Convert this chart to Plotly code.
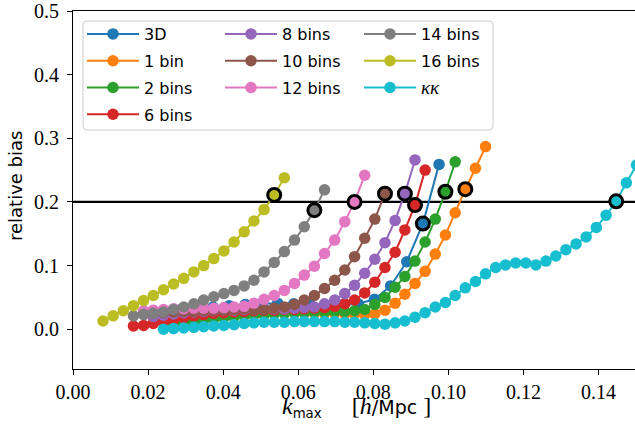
import plotly.graph_objects as go

# Shared k grid (h/Mpc) used by the tomographic and lensing curves
K_GRID = [0.0080, 0.0107, 0.0134, 0.0161, 0.0188, 0.0214, 0.0241, 0.0268, 0.0295,
          0.0322, 0.0348, 0.0375, 0.0402, 0.0429, 0.0456, 0.0482, 0.0509, 0.0536,
          0.0563, 0.0590, 0.0616, 0.0643, 0.0670, 0.0697, 0.0724, 0.0750, 0.0777,
          0.0804, 0.0831, 0.0858, 0.0884, 0.0911, 0.0938, 0.0965, 0.0992, 0.1018,
          0.1045, 0.1072, 0.1099, 0.1126, 0.1152, 0.1179, 0.1206, 0.1233, 0.1260,
          0.1286, 0.1313, 0.1340, 0.1367, 0.1394, 0.1420, 0.1447, 0.1474, 0.1501]

# 3D analysis uses its own, coarser k grid
K_3D = [0.0287, 0.0330, 0.0373, 0.0416, 0.0459, 0.0502, 0.0545, 0.0588, 0.0631,
        0.0674, 0.0717, 0.0760, 0.0803, 0.0846, 0.0889, 0.0932, 0.0975]
BIAS_3D = [0.031, 0.033, 0.035, 0.037, 0.039, 0.040, 0.041, 0.040, 0.039,
           0.038, 0.038, 0.040, 0.047, 0.068, 0.106, 0.166, 0.259]

# first k value of each curve on K_GRID, followed by the relative bias values
KMIN_1BIN = 0.0214
BIAS_1BIN = [0.018, 0.019, 0.020, 0.021, 0.022, 0.023, 0.024, 0.025, 0.025, 0.026,
             0.026, 0.026, 0.026, 0.026, 0.026, 0.026, 0.025, 0.025, 0.025, 0.024,
             0.024, 0.023, 0.024, 0.030, 0.041, 0.055, 0.072, 0.091, 0.118, 0.148,
             0.183, 0.220, 0.253, 0.287]

KMIN_2BINS = 0.0268
BIAS_2BINS = [0.008, 0.010, 0.012, 0.014, 0.016, 0.018, 0.019, 0.021, 0.022, 0.023,
              0.024, 0.025, 0.026, 0.026, 0.027, 0.027, 0.028, 0.028, 0.029, 0.031,
              0.039, 0.050, 0.066, 0.083, 0.107, 0.137, 0.173, 0.216, 0.263]

KMIN_6BINS = 0.0161
BIAS_6BINS = [0.005, 0.006, 0.009, 0.012, 0.015, 0.018, 0.021, 0.023, 0.025, 0.026,
              0.027, 0.028, 0.029, 0.030, 0.030, 0.031, 0.031, 0.032, 0.033, 0.034,
              0.036, 0.040, 0.046, 0.057, 0.074, 0.097, 0.121, 0.156, 0.195, 0.250]

KMIN_8BINS = 0.0214
BIAS_8BINS = [0.020, 0.022, 0.024, 0.026, 0.027, 0.028, 0.029, 0.030, 0.030, 0.031,
              0.031, 0.032, 0.032, 0.032, 0.033, 0.034, 0.035, 0.040, 0.046, 0.056,
              0.069, 0.088, 0.110, 0.136, 0.171, 0.213, 0.266]

KMIN_10BINS = 0.0188
BIAS_10BINS = [0.024, 0.025, 0.026, 0.027, 0.028, 0.028, 0.029, 0.030, 0.030, 0.031,
               0.032, 0.031, 0.031, 0.033, 0.035, 0.039, 0.046, 0.053, 0.064, 0.077,
               0.093, 0.114, 0.143, 0.173, 0.213]

KMIN_12BINS = 0.0188
BIAS_12BINS = [0.029, 0.030, 0.031, 0.032, 0.032, 0.033, 0.033, 0.033, 0.034, 0.035,
               0.036, 0.041, 0.047, 0.053, 0.061, 0.072, 0.085, 0.099, 0.119, 0.140,
               0.169, 0.200, 0.242]

KMIN_14BINS = 0.0161
BIAS_14BINS = [0.021, 0.023, 0.025, 0.027, 0.031, 0.035, 0.040, 0.046, 0.051, 0.056,
               0.061, 0.068, 0.077, 0.090, 0.105, 0.122, 0.140, 0.161, 0.187, 0.219]

KMIN_16BINS = 0.0080
BIAS_16BINS = [0.013, 0.021, 0.029, 0.037, 0.045, 0.053, 0.062, 0.071, 0.080, 0.090,
               0.100, 0.111, 0.123, 0.137, 0.153, 0.170, 0.188, 0.211, 0.238]

KMIN_KK = 0.0241
BIAS_KK = [0.000, 0.001, 0.002, 0.003, 0.004, 0.005, 0.006, 0.007, 0.009, 0.010,
           0.011, 0.011, 0.011, 0.012, 0.012, 0.012, 0.012, 0.012, 0.011, 0.011,
           0.010, 0.009, 0.008, 0.010, 0.013, 0.019, 0.026, 0.035, 0.042, 0.053,
           0.065, 0.075, 0.087, 0.097, 0.101, 0.104, 0.104, 0.101, 0.107, 0.115,
           0.125, 0.134, 0.145, 0.160, 0.179, 0.201, 0.230, 0.258]

K_MARK = {
    "3D": 0.0932, "1 bin": 0.1045, "2 bins": 0.0992, "6 bins": 0.0911,
    "8 bins": 0.0884, "10 bins": 0.0831, "12 bins": 0.0750, "14 bins": 0.0643,
    "16 bins": 0.0536, "kk": 0.1447,
}

THRESHOLD = 0.2

SERIF = "Liberation Serif, Times New Roman, serif"
SANS = "DejaVu Sans, Verdana, sans-serif"


def on_grid(kmin, values):
    i = K_GRID.index(kmin)
    return K_GRID[i:i + len(values)], values


series = [
    ("3D", "3D", K_3D, BIAS_3D, "#1f77b4", "legend"),
    ("1 bin", "1 bin", *on_grid(KMIN_1BIN, BIAS_1BIN), "#ff7f0e", "legend"),
    ("2 bins", "2 bins", *on_grid(KMIN_2BINS, BIAS_2BINS), "#2ca02c", "legend"),
    ("6 bins", "6 bins", *on_grid(KMIN_6BINS, BIAS_6BINS), "#d62728", "legend"),
    ("8 bins", "8 bins", *on_grid(KMIN_8BINS, BIAS_8BINS), "#9467bd", "legend2"),
    ("10 bins", "10 bins", *on_grid(KMIN_10BINS, BIAS_10BINS), "#8c564b", "legend2"),
    ("12 bins", "12 bins", *on_grid(KMIN_12BINS, BIAS_12BINS), "#e377c2", "legend2"),
    ("14 bins", "14 bins", *on_grid(KMIN_14BINS, BIAS_14BINS), "#7f7f7f", "legend3"),
    ("16 bins", "16 bins", *on_grid(KMIN_16BINS, BIAS_16BINS), "#bcbd22", "legend3"),
    ("kk", "<span style=\"font-family:'Liberation Serif',serif;font-size:19px\"><i>κκ</i></span>",
     *on_grid(KMIN_KK, BIAS_KK), "#17becf", "legend3"),
]

fig = go.Figure()

# threshold line
fig.add_trace(go.Scatter(x=[-0.01, 0.2], y=[THRESHOLD, THRESHOLD], mode="lines",
                         line=dict(color="black", width=2.2), showlegend=False,
                         hoverinfo="skip"))

for key, label, k, b, color, leg in series:
    fig.add_trace(go.Scatter(
        x=k, y=b, mode="lines+markers", name=label, legend=leg, legendgroup=key,
        line=dict(color=color, width=2),
        marker=dict(color=color, size=11.5, line=dict(width=0)),
    ))

ring_x, ring_y = [], []
for key, label, k, b, color, leg in series:
    i = min(range(len(k)), key=lambda j: abs(k[j] - K_MARK[key]))
    ring_x.append(k[i])
    ring_y.append(b[i])

fig.add_trace(go.Scatter(
    x=ring_x, y=ring_y, mode="markers", showlegend=False,
    marker=dict(symbol="circle-open", size=13, color="black", line=dict(width=3)),
))

legend_style = dict(
    bgcolor="rgba(0,0,0,0)", borderwidth=0, orientation="v",
    xanchor="left", yanchor="top", itemwidth=52, tracegroupgap=3,
    font=dict(family=SANS, size=16, color="black"),
)

W, H = 635, 426
L, R, T, B = 73, 0, 11, 57
pw, ph = W - L - R, H - T - B


def px_x(x):
    return (x - L) / pw


def px_y(y):
    return (H - B - y) / ph


fig.update_layout(
    width=W, height=H,
    margin=dict(l=L, r=R, t=T, b=B),
    paper_bgcolor="white", plot_bgcolor="white",
    legend=dict(x=px_x(82), y=px_y(17), **legend_style),
    legend2=dict(x=px_x(220), y=px_y(17), **legend_style),
    legend3=dict(x=px_x(359), y=px_y(17), **legend_style),
    xaxis=dict(
        range=[0, 0.1497], tickmode="array",
        tickvals=[0.0, 0.02, 0.04, 0.06, 0.08, 0.10, 0.12, 0.14],
        tickformat=".2f", ticks="outside", ticklen=5, tickwidth=1, tickcolor="black",
        showline=True, linecolor="black", linewidth=1.2, mirror=True,
        showgrid=False, zeroline=False,
        tickfont=dict(family=SERIF, size=20, color="black"),
    ),
    yaxis=dict(
        range=[-0.0625, 0.5], tickmode="array",
        tickvals=[0.0, 0.1, 0.2, 0.3, 0.4, 0.5],
        tickformat=".1f", ticks="outside", ticklen=5, tickwidth=1, tickcolor="black",
        showline=True, linecolor="black", linewidth=1.2,
        showgrid=False, zeroline=False, ticklabelstandoff=4,
        tickfont=dict(family=SERIF, size=20, color="black"),
    ),
    showlegend=True,
)

# legend frame
x0, x1, y0, y1, r = px_x(83), px_x(493), px_y(21), px_y(130), 4
rx, ry = r / pw, r / ph
frame = (f"M{x0 + rx},{y0} L{x1 - rx},{y0} Q{x1},{y0} {x1},{y0 - ry} "
         f"L{x1},{y1 + ry} Q{x1},{y1} {x1 - rx},{y1} L{x0 + rx},{y1} "
         f"Q{x0},{y1} {x0},{y1 + ry} L{x0},{y0 - ry} Q{x0},{y0} {x0 + rx},{y0} Z")
fig.add_shape(type="path", path=frame, xref="paper", yref="paper", layer="above",
              fillcolor="rgba(255,255,255,0.8)", line=dict(color="#cccccc", width=1))

serif = "font-family:'Liberation Serif',serif"
xlabel = (f"<span style=\"{serif};font-size:24px\"><i>k</i></span>"
          f"<sub>max</sub>\u00a0\u00a0\u00a0\u00a0\u00a0"
          f"<span style=\"{serif};font-size:24px\">[<i>h</i></span>/Mpc\u00a0"
          f"<span style=\"{serif};font-size:24px\">]</span>")
fig.add_annotation(text=xlabel, x=px_x(356), y=px_y(407), xref="paper", yref="paper",
                   xanchor="center", yanchor="middle", showarrow=False,
                   font=dict(family=SANS, size=19, color="black"))
fig.add_annotation(text="relative bias", x=px_x(15), y=px_y(186), xref="paper",
                   yref="paper", xanchor="center", yanchor="middle", showarrow=False,
                   textangle=-90, font=dict(family=SANS, size=18, color="black"))

fig.write_html("out.html")
